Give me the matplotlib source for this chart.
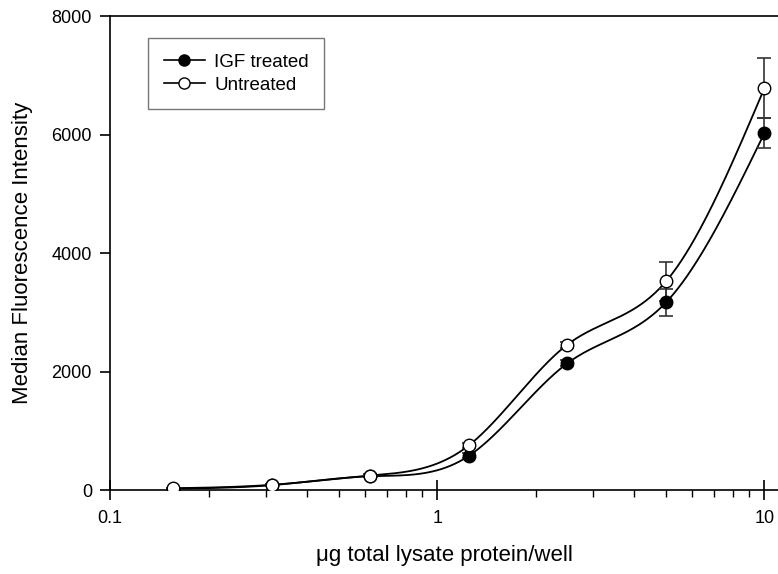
import numpy as np
import matplotlib
matplotlib.use('Agg')
import matplotlib.pyplot as plt
from matplotlib.ticker import FixedLocator, LogLocator, NullFormatter
from matplotlib.lines import Line2D

plt.rcParams['font.family'] = ['Liberation Sans', 'DejaVu Sans']

# ug total lysate protein per well (two-fold dilutions)
protein = [0.156, 0.3125, 0.625, 1.25, 2.5, 5.0, 10.0]

igf_mfi = [25, 82, 232, 578, 2140, 3165, 6025]
igf_err = [10, 12, 20, 45, 55, 235, 255]

untr_mfi = [30, 88, 245, 755, 2455, 3520, 6785]
untr_err = [10, 12, 20, 45, 50, 330, 510]


def natural_spline(x, y, xs):
    # natural cubic spline, done in plain numpy
    x = np.asarray(x, float)
    y = np.asarray(y, float)
    n = len(x)
    h = np.diff(x)
    A = np.zeros((n, n))
    b = np.zeros(n)
    A[0, 0] = 1
    A[-1, -1] = 1
    for i in range(1, n - 1):
        A[i, i - 1] = h[i - 1]
        A[i, i] = 2 * (h[i - 1] + h[i])
        A[i, i + 1] = h[i]
        b[i] = 3 * ((y[i + 1] - y[i]) / h[i] - (y[i] - y[i - 1]) / h[i - 1])
    c = np.linalg.solve(A, b)
    out = np.zeros_like(xs)
    for k, xv in enumerate(xs):
        i = min(max(np.searchsorted(x, xv) - 1, 0), n - 2)
        d = xv - x[i]
        bi = (y[i + 1] - y[i]) / h[i] - h[i] * (2 * c[i] + c[i + 1]) / 3
        di = (c[i + 1] - c[i]) / (3 * h[i])
        out[k] = y[i] + bi * d + c[i] * d ** 2 + di * d ** 3
    return out


fig = plt.figure(figsize=(7.78, 5.74), dpi=100)
ax = fig.add_axes([0.1414, 0.1463, 0.8586, 0.8258])

lx = np.log10(protein)
xs = np.linspace(lx[0], lx[-1], 400)

for yv, ev, fc in [(igf_mfi, igf_err, 'black'), (untr_mfi, untr_err, 'white')]:
    ax.plot(10 ** xs, natural_spline(lx, yv, xs), color='black', lw=1.3, zorder=2)
    ax.errorbar(protein, yv, yerr=ev, fmt='none', ecolor='#333333', elinewidth=1.2,
                capsize=5, capthick=1.2, zorder=3)
    ax.plot(protein, yv, 'o', ms=9, mfc=fc, mec='black', mew=1.0, ls='none', zorder=4)

ax.set_xscale('log')
ax.set_xlim(0.1, 11.0)
ax.set_ylim(0, 8000)
ax.xaxis.set_major_locator(FixedLocator([0.1, 1, 10]))
ax.set_xticklabels(['0.1', '1', '10'])
ax.xaxis.set_minor_locator(LogLocator(base=10, subs=np.arange(2, 10)))
ax.xaxis.set_minor_formatter(NullFormatter())
ax.set_yticks([0, 2000, 4000, 6000, 8000])

ax.spines['right'].set_visible(False)
for s in ['left', 'bottom', 'top']:
    ax.spines[s].set_linewidth(1.2)

ax.tick_params(axis='x', which='major', direction='inout', length=15, width=1.2,
               labelsize=13, pad=7)
ax.tick_params(axis='x', which='minor', direction='out', length=5, width=1.0)
ax.tick_params(axis='y', which='major', direction='out', length=7, width=1.2,
               labelsize=13, pad=6)

ax.set_xlabel('\u03bcg total lysate protein/well', fontsize=16, labelpad=12.5)
ax.set_ylabel('Median Fluorescence Intensity', fontsize=16, labelpad=13)

handles = [
    Line2D([], [], color='black', lw=1.2, marker='o', ms=8, mfc='black', mec='black'),
    Line2D([], [], color='black', lw=1.2, marker='o', ms=8, mfc='white', mec='black'),
]
leg = ax.legend(handles, ['IGF treated', 'Untreated'], loc='upper left',
                bbox_to_anchor=(0.057, 0.954), fontsize=13.5, frameon=True,
                fancybox=False, handlelength=2.2, handletextpad=0.5,
                borderpad=0.83, labelspacing=0.32, borderaxespad=0)
leg.get_frame().set_edgecolor('#555555')
leg.get_frame().set_linewidth(1.0)

fig.savefig('out.png', dpi=100)
